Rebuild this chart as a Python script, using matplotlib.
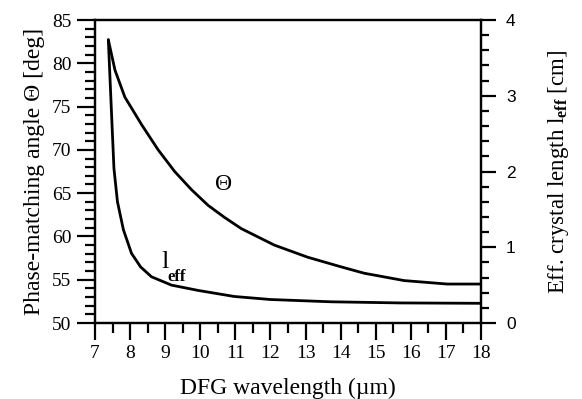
import matplotlib
matplotlib.use("Agg")
import matplotlib.pyplot as plt
from matplotlib.ticker import MultipleLocator

plt.rcParams['mathtext.fontset'] = 'custom'
plt.rcParams['mathtext.rm'] = 'Liberation Serif'
plt.rcParams['mathtext.it'] = 'Liberation Serif:italic'
plt.rcParams['mathtext.bf'] = 'Liberation Serif:bold'

# Phase-matching angle curve
theta_wl = [7.38, 7.57, 7.85, 8.33, 8.80, 9.27, 9.75, 10.22, 10.69, 11.17, 12.11, 13.06, 14.0, 14.67, 15.81, 17.04, 18.0]
theta_deg = [82.7, 79.2, 76.1, 72.9, 70.0, 67.5, 65.4, 63.6, 62.2, 60.9, 59.0, 57.6, 56.5, 55.75, 54.9, 54.5, 54.5]

# Effective crystal length curve
leff_wl = [7.38, 7.45, 7.54, 7.64, 7.81, 8.04, 8.30, 8.61, 9.18, 9.94, 10.97, 12.0, 13.72, 15.70, 18.0]
leff_cm = [3.74, 2.99, 2.04, 1.60, 1.23, 0.92, 0.74, 0.61, 0.50, 0.43, 0.35, 0.31, 0.28, 0.265, 0.26]

x_ticks = list(range(7, 19))
theta_ticks = [50, 55, 60, 65, 70, 75, 80, 85]
leff_ticks = [0, 1, 2, 3, 4]

serif = 'Liberation Serif'
sans = 'Liberation Sans'

fig = plt.figure(figsize=(5.82, 3.99), dpi=100)
ax = fig.add_axes([95/582, 1-323/399, (481-95)/582, (323-20)/399])
ax2 = ax.twinx()

ax.plot(theta_wl, theta_deg, color='black', lw=2.0, solid_joinstyle='round', solid_capstyle='round')
ax2.plot(leff_wl, leff_cm, color='black', lw=2.0, solid_joinstyle='round', solid_capstyle='round')

ax.set_xlim(7, 18)
ax.set_ylim(50, 85)
ax2.set_ylim(0, 4)

ax.set_xticks(x_ticks)
ax.set_xticklabels([str(v) for v in x_ticks], fontfamily=serif, fontsize=14)
ax.xaxis.set_minor_locator(MultipleLocator(0.5))
ax.set_yticks(theta_ticks)
ax.set_yticklabels([str(v) for v in theta_ticks], fontfamily=serif, fontsize=14)
ax.yaxis.set_minor_locator(MultipleLocator(1))
ax2.set_yticks(leff_ticks)
ax2.set_yticklabels([str(v) for v in leff_ticks], fontfamily=sans, fontsize=12.5)
ax2.yaxis.set_minor_locator(MultipleLocator(0.2))

for a in (ax, ax2):
    for s in a.spines.values():
        s.set_linewidth(1.6)
ax.tick_params(axis='both', which='major', direction='out', length=12, width=1.6, pad=4, colors='black')
ax.tick_params(axis='both', which='minor', direction='out', length=7, width=1.6)
ax.tick_params(axis='y', which='major', length=13, pad=4)
ax2.tick_params(axis='y', which='major', direction='out', length=11, width=1.6, pad=7)
ax2.tick_params(axis='y', which='minor', direction='out', length=6, width=1.6)

ax.set_xlabel('DFG wavelength (\u00b5m)', fontfamily=serif, fontsize=17, labelpad=11)
ax.set_ylabel('Phase-matching angle \u0398 [deg]', fontfamily=serif, fontsize=17, labelpad=5)
ax2.set_ylabel(r'Eff. crystal length l$_{\mathbf{eff}}$ [cm]', fontfamily=serif, fontsize=16.5, labelpad=22)

ax.text(10.67, 66.0, '\u0398', fontfamily=serif, fontsize=17, ha='center', va='center')
ax.text(9.0, 57.0, 'l', fontfamily=serif, fontsize=19, ha='center', va='center')
ax.text(9.33, 55.3, 'eff', fontfamily=serif, fontweight='bold', fontsize=12, ha='center', va='center')

fig.savefig('out.png', dpi=100)
